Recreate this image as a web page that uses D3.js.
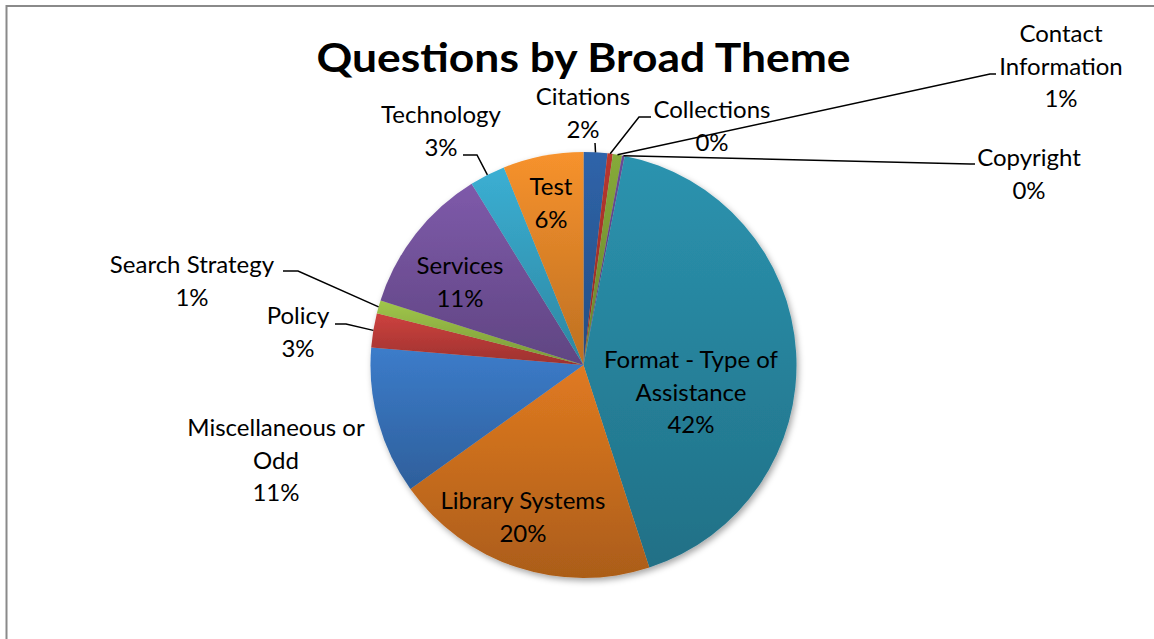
<!DOCTYPE html>
<html>
<head>
<meta charset="utf-8">
<script src="https://cdn.jsdelivr.net/npm/d3@7"></script>
<style>
  body { margin: 0; background: #fff; }
  svg { display: block; }
  text { font-family: Lato, "Open Sans", sans-serif; fill: #000; }
</style>
</head>
<body>
<svg id="chart"></svg>
<script>
// categories in the order Excel draws them (clockwise from 12 o'clock)
const themes = ["Citations", "Collections", "Contact Information", "Copyright",
  "Format - Type of Assistance", "Library Systems", "Miscellaneous or Odd", "Policy",
  "Search Strategy", "Services", "Technology", "Test"];
// share of questions, percent
const shares = [1.8, 0.4, 0.7, 0.2, 41.9, 20.1, 11.2, 2.6, 1.0, 11.3, 2.7, 6.1];
// how each label is broken into lines
const labelLines = [["Citations"], ["Collections"], ["Contact", "Information"], ["Copyright"],
  ["Format - Type of", "Assistance"], ["Library Systems"], ["Miscellaneous or", "Odd"], ["Policy"],
  ["Search Strategy"], ["Services"], ["Technology"], ["Test"]];

const colors = ["#2f64aa", "#b9372f", "#86aa3a", "#6b4c96", "#2b93af", "#e07a21",
  "#3c7cca", "#cd413e", "#a0c64a", "#7e5aaa", "#3bafd3", "#f7922d"];

const W = 1154, H = 639;
const cx = 583.5, cy = 365, R = 213;
const fontSize = 24, lineH = 32.5;

// label centre (x, y of first line) and leader elbows, per category
const labelLayout = {
  "Citations": { x: 583, y: 97, leader: [[595, 143]] },
  "Collections": { x: 712, y: 110, leader: [[639, 117], [651, 117]] },
  "Contact Information": { x: 1061, y: 34, leader: [[990, 74], [996, 74]] },
  "Copyright": { x: 1029, y: 158, leader: [[970, 164], [975, 164]] },
  "Format - Type of Assistance": { x: 691, y: 360 },
  "Library Systems": { x: 523, y: 501 },
  "Miscellaneous or Odd": { x: 276, y: 428 },
  "Policy": { x: 298, y: 316, leader: [[346, 324], [335, 324]] },
  "Search Strategy": { x: 192, y: 265, leader: [[298, 271], [283, 271]] },
  "Services": { x: 460, y: 266 },
  "Technology": { x: 441, y: 115, leader: [[477, 155], [463, 155]] },
  "Test": { x: 551, y: 187 }
};

const svg = d3.select("#chart").attr("width", W).attr("height", H);
const defs = svg.append("defs");

// frame: only the top and left edges are visible
svg.append("path")
  .attr("d", `M6.5,${H} V6 H${W}`)
  .attr("fill", "none")
  .attr("stroke", "#8a8a8a")
  .attr("stroke-width", 2);

svg.append("text")
  .attr("x", cx).attr("y", 72)
  .attr("text-anchor", "middle")
  .attr("font-size", 40)
  .attr("font-weight", "bold")
  .attr("textLength", 534)
  .attr("lengthAdjust", "spacingAndGlyphs")
  .text("Questions by Broad Theme");

// vertical gradients per slice (lighter on top, darker at the bottom)
colors.forEach((c, i) => {
  const g = defs.append("linearGradient")
    .attr("id", "grad" + i)
    .attr("x1", 0).attr("y1", 0).attr("x2", 0).attr("y2", 1);
  g.append("stop").attr("offset", "0%").attr("stop-color", c);
  g.append("stop").attr("offset", "100%").attr("stop-color", d3.color(c).darker(0.75));
});

const shadow = defs.append("filter").attr("id", "shadow")
  .attr("x", "-10%").attr("y", "-10%").attr("width", "125%").attr("height", "125%");
shadow.append("feDropShadow")
  .attr("dx", 2).attr("dy", 3).attr("stdDeviation", 3)
  .attr("flood-color", "#000").attr("flood-opacity", 0.35);

const data = themes.map((t, i) => ({ theme: t, value: shares[i], idx: i }));
const total = d3.sum(shares);

const pie = d3.pie().value(d => d.value).sort(null);
const arc = d3.arc().innerRadius(0).outerRadius(R);
const edge = d3.arc().innerRadius(R).outerRadius(R);
const arcs = pie(data);

const g = svg.append("g")
  .attr("transform", `translate(${cx},${cy})`)
  .attr("filter", "url(#shadow)");

g.selectAll("path.slice")
  .data(arcs)
  .enter()
  .append("path")
  .attr("class", "slice")
  .attr("d", arc)
  .attr("fill", d => `url(#grad${d.data.idx})`);

// leader lines
arcs.forEach(d => {
  const lay = labelLayout[d.data.theme];
  if (!lay.leader) return;
  const [ex, ey] = edge.centroid(d);
  const pts = [[cx + ex, cy + ey]].concat(lay.leader);
  svg.append("path")
    .attr("d", d3.line()(pts))
    .attr("fill", "none")
    .attr("stroke", "#000")
    .attr("stroke-width", 1.5);
});

// labels
arcs.forEach(d => {
  const lay = labelLayout[d.data.theme];
  const lines = labelLines[d.data.idx].concat([Math.round(d.data.value / total * 100) + "%"]);
  const t = svg.append("text")
    .attr("text-anchor", "middle")
    .attr("font-size", fontSize);
  lines.forEach((s, k) => {
    t.append("tspan")
      .attr("x", lay.x)
      .attr("y", lay.y + k * lineH + fontSize * 0.35)
      .text(s);
  });
});
</script>
</body>
</html>
